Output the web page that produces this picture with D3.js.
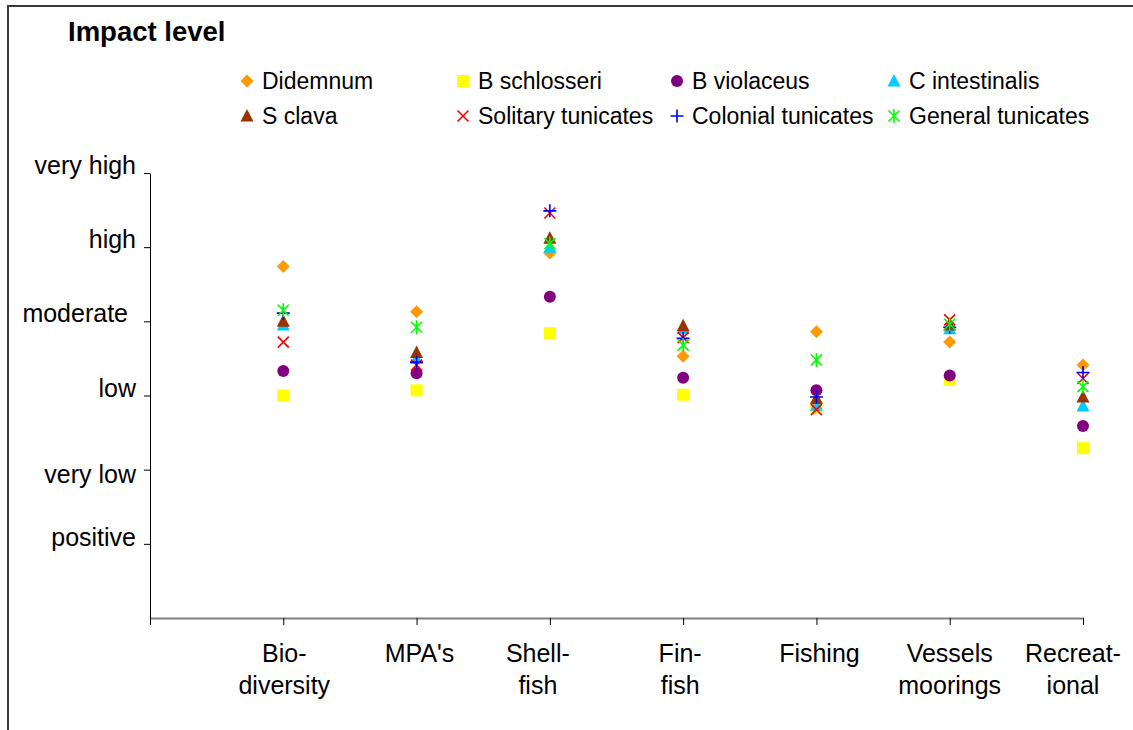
<!DOCTYPE html>
<html>
<head>
<meta charset="utf-8">
<script src="https://cdn.jsdelivr.net/npm/d3@7"></script>
<style>
  html, body { margin: 0; padding: 0; background: #fff; }
  svg { display: block; font-family: "Liberation Sans", Arial, sans-serif; }
</style>
</head>
<body>
<svg id="chart" width="1133" height="730"></svg>
<script>
// ---------- data ----------
const categories = [["Bio-", "diversity"], ["MPA's"], ["Shell-", "fish"], ["Fin-", "fish"], ["Fishing"], ["Vessels", "moorings"], ["Recreat-", "ional"]];
const levelLabels = ["positive", "very low", "low", "moderate", "high", "very high"];
const seriesNames = ["Didemnum", "B schlosseri", "B violaceus", "C intestinalis", "S clava", "Solitary tunicates", "Colonial tunicates", "General tunicates"];
const didemnum   = [4.74, 4.13, 4.92, 3.53, 3.86, 3.72, 3.41];
const bSchlosseri = [3.00, 3.07, 3.84, 3.01, 2.83, 3.21, 2.29];
const bViolaceus = [3.33, 3.30, 4.33, 3.24, 3.07, 3.27, 2.59];
const cIntestinalis = [3.95, 3.50, 5.00, 3.90, 2.87, 3.90, 2.86];
const sClava     = [4.00, 3.58, 5.12, 3.94, 2.96, 3.95, 2.98];
const solitary   = [3.72, 3.41, 5.46, 3.78, 2.81, 4.02, 3.23];
const colonial   = [4.11, 3.45, 5.49, 3.77, 2.98, 3.92, 3.31];
const general    = [4.15, 3.92, 5.05, 3.68, 3.48, 3.96, 3.12];
const seriesValues = [didemnum, bSchlosseri, bViolaceus, cIntestinalis, sClava, solitary, colonial, general];

// ---------- styles / layout ----------
const colors = ["#FF9900", "#FFFF00", "#800080", "#00CCFF", "#993300", "#FF0000", "#0000FF", "#00FF00"];
const shapes = ["diamond", "square", "circle", "triangle", "triangle", "x", "plus", "star"];
const labelShift = [1, 3, -12, -3, 3, 0, -10];
const tickLabelDy = [-6, 5, -7, -8, -8, -8];

const svg = d3.select("#chart");

// frame
svg.append("rect").attr("x", 8).attr("y", 6).attr("width", 1300).attr("height", 900)
  .attr("fill", "none").attr("stroke", "#3a3a3a").attr("stroke-width", 2);

const x = d3.scaleLinear().domain([0, 7]).range([150, 1083]);
const y = d3.scaleLinear().domain([0, 6]).range([618, 173]);

// x axis
const gx = svg.append("g").attr("transform", `translate(0,${y(0)})`)
  .call(d3.axisBottom(x).tickValues(d3.range(0, 8)).tickSize(7).tickSizeOuter(0).tickFormat(""));
gx.select(".domain").attr("stroke", "#808080").attr("stroke-width", 2);
gx.selectAll(".tick line").attr("stroke", "#000").attr("stroke-width", 1);

// y axis
const gy = svg.append("g").attr("transform", `translate(${x(0)},0)`)
  .call(d3.axisLeft(y).tickValues(d3.range(1, 7)).tickSize(6).tickSizeOuter(0)
    .tickFormat(d => levelLabels[d - 1]));
gy.select(".domain").attr("stroke", "#000").attr("stroke-width", 1);
gy.selectAll(".tick line").attr("stroke", "#000");
gy.selectAll(".tick text")
  .attr("font-size", 25).attr("fill", "#000")
  .attr("font-family", "Liberation Sans, Arial, sans-serif")
  .attr("x", (d) => d === 4 ? -22 : -14)
  .attr("dy", "0.32em")
  .attr("y", (d) => tickLabelDy[d - 1]);

// category labels
const cat = svg.append("g").attr("font-size", 25).attr("fill", "#000").attr("text-anchor", "middle");
categories.forEach((lines, i) => {
  const t = cat.append("text").attr("x", x(i + 1) + labelShift[i]).attr("y", 662);
  lines.forEach((ln, j) => {
    t.append("tspan").attr("x", x(i + 1) + labelShift[i]).attr("y", 662 + j * 32).text(ln);
  });
});

// title
svg.append("text").attr("x", 68).attr("y", 41).attr("font-size", 27.5).attr("font-weight", "bold")
  .attr("fill", "#000").text("Impact level");

// marker drawing
function drawMarker(g, shape, color) {
  switch (shape) {
    case "diamond":
      g.append("path").attr("d", "M0,-6.5L6.5,0L0,6.5L-6.5,0Z").attr("fill", color); break;
    case "square":
      g.append("rect").attr("x", -6).attr("y", -6).attr("width", 12).attr("height", 12).attr("fill", color); break;
    case "circle":
      g.append("circle").attr("r", 6).attr("fill", color); break;
    case "triangle":
      g.append("path").attr("d", "M0,-7L6.5,5.5L-6.5,5.5Z").attr("fill", color); break;
    case "x":
      g.append("path").attr("d", "M-5.5,-5.5L5.5,5.5M5.5,-5.5L-5.5,5.5").attr("stroke", color).attr("stroke-width", 1.6).attr("fill", "none"); break;
    case "plus":
      g.append("path").attr("d", "M-6.5,0L6.5,0M0,-6.5L0,6.5").attr("stroke", color).attr("stroke-width", 1.6).attr("fill", "none"); break;
    case "star":
      g.append("path").attr("d", "M-5.5,-5.5L5.5,5.5M5.5,-5.5L-5.5,5.5M0,-7L0,7").attr("stroke", color).attr("stroke-width", 1.6).attr("fill", "none"); break;
  }
}

// points
seriesValues.forEach((vals, s) => {
  const g = svg.append("g").attr("class", "series");
  vals.forEach((v, i) => {
    const m = g.append("g").attr("transform", `translate(${x(i + 1)},${y(v)})`);
    drawMarker(m, shapes[s], colors[s]);
  });
});

// legend
const legendCols = [247, 463, 677, 894];
const legendRows = [81, 116];
const legend = svg.append("g");
seriesNames.forEach((name, s) => {
  const col = s % 4, row = Math.floor(s / 4);
  const g = legend.append("g").attr("transform", `translate(${legendCols[col]},${legendRows[row]})`);
  drawMarker(g, shapes[s], colors[s]);
  g.append("text").attr("x", 15).attr("y", 0).attr("dy", "0.35em").attr("font-size", 23).attr("fill", "#000").text(name);
});
</script>
</body>
</html>
